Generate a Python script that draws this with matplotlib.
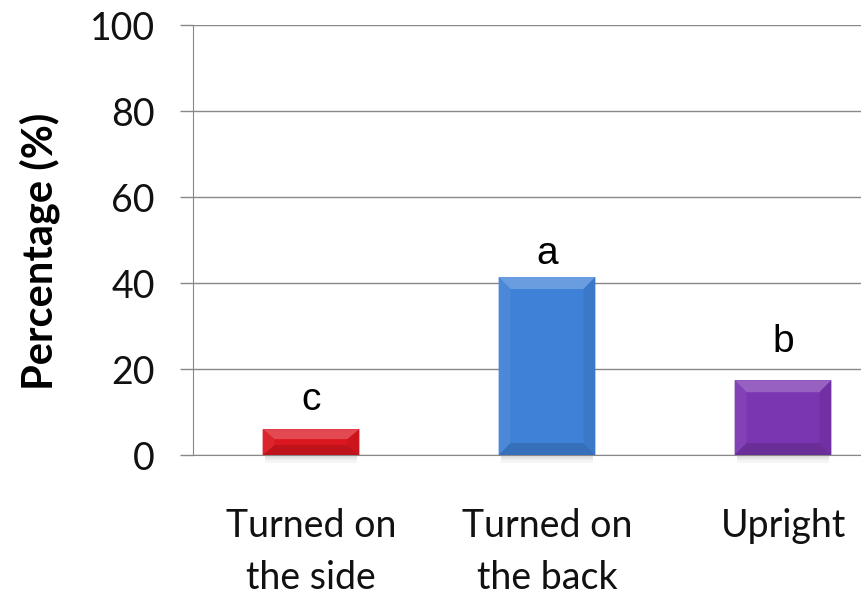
import matplotlib.pyplot as plt
from matplotlib.patches import Polygon
from matplotlib.colors import to_rgb

# data
categories = ["Turned on\nthe side", "Turned on\nthe back", "Upright"]
values = [6.0, 41.4, 17.4]
letters = ["c", "a", "b"]
colors = ["#da161e", "#3f81d6", "#7a35b0"]
letter_gap = [14, 9, 20]   # points above bar top (baseline)

plt.rcParams['font.family'] = ['Lato', 'DejaVu Sans']

fig = plt.figure(figsize=(8.61, 5.96), dpi=100)
ax = fig.add_axes([193/861, 141/596, 708/861, 430/596])

x = list(range(len(categories)))
w = 0.41
bars = ax.bar(x, values, width=w, color=colors, zorder=3)


def shade(c, f):
    r, g, b = to_rgb(c)
    if f > 0:
        return (r + (1 - r) * f, g + (1 - g) * f, b + (1 - b) * f)
    return (r * (1 + f), g * (1 + f), b * (1 + f))


# bevel look + soft shadow
bx = 0.05
by = 2.8
for b, c in zip(bars, colors):
    x0 = b.get_x()
    x1 = x0 + b.get_width()
    h = b.get_height()
    dy = min(by, h / 2.6)
    # shadow
    for k, a in enumerate([0.12, 0.08, 0.04]):
        ax.add_patch(plt.Rectangle((x0 + 0.01, -0.6 - k * 0.6), x1 - x0 - 0.02, 0.6,
                                   color="k", alpha=a, lw=0, zorder=2, clip_on=False))
    top = Polygon([(x0, h), (x1, h), (x1 - bx, h - dy), (x0 + bx, h - dy)],
                  color=shade(c, 0.22), lw=0, zorder=4)
    bot = Polygon([(x0, 0), (x1, 0), (x1 - bx, dy), (x0 + bx, dy)],
                  color=shade(c, -0.13), lw=0, zorder=4)
    lft = Polygon([(x0, 0), (x0, h), (x0 + bx, h - dy), (x0 + bx, dy)],
                  color=shade(c, 0.06), lw=0, zorder=4)
    rgt = Polygon([(x1, 0), (x1, h), (x1 - bx, h - dy), (x1 - bx, dy)],
                  color=shade(c, -0.07), lw=0, zorder=4)
    for p in (top, bot, lft, rgt):
        ax.add_patch(p)

for xi, v, t, g in zip(x, values, letters, letter_gap):
    ax.annotate(t, (xi, v), xytext=(0, g), textcoords="offset points",
                ha="center", va="baseline", fontsize=28, family="Liberation Sans")

ax.set_xlim(-0.5, 2.5)
ax.set_ylim(0, 100)
ax.set_yticks([0, 20, 40, 60, 80, 100])
ax.set_xticks(x)
ax.set_xticklabels(categories, fontsize=27, color="#111111", linespacing=1.55)
ax.tick_params(axis="x", length=0, pad=38)
ax.tick_params(axis="y", length=9.5, width=1, color="#888888", labelsize=27, pad=18,
               labelcolor="#111111")
ax.grid(axis="y", color="#888888", lw=1, zorder=0)
for s in ["top", "right"]:
    ax.spines[s].set_visible(False)
for s in ["left", "bottom"]:
    ax.spines[s].set_color("#888888")
ax.set_ylabel("Percentage (%)", fontsize=30, fontweight="bold")
ax.yaxis.set_label_coords(-0.188, 0.474)

fig.savefig("out.png", dpi=100)
